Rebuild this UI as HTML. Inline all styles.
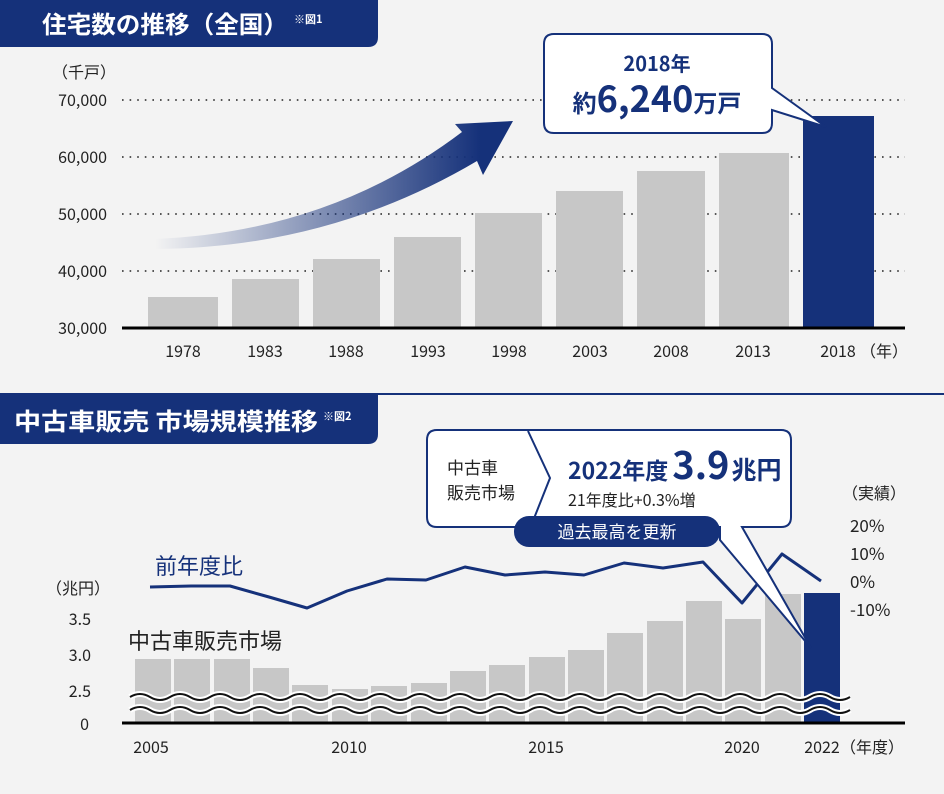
<!DOCTYPE html>
<html><head><meta charset="utf-8"><style>
body{margin:0;background:#f3f3f3;}
svg{display:block;font-family:"Noto Sans CJK JP",sans-serif;}
</style></head><body>
<svg width="944" height="794" viewBox="0 0 944 794" xmlns="http://www.w3.org/2000/svg">
<defs>
<linearGradient id="g" x1="155" y1="0" x2="480" y2="0" gradientUnits="userSpaceOnUse">
<stop offset="0" stop-color="#15317a" stop-opacity="0"/>
<stop offset="1" stop-color="#15317a"/>
</linearGradient>
</defs>
<rect width="944" height="794" fill="#f3f3f3"/>
<path d="M0 0H378V37Q378 47 368 47H0Z" fill="#15317a"/>
<text x="42" y="33" fill="#fff" font-size="24" font-weight="bold" textLength="246" lengthAdjust="spacingAndGlyphs">住宅数の推移（全国）</text>
<text x="294" y="23" fill="#fff" font-size="11" font-weight="bold">※図1</text>
<g stroke="#222" stroke-width="1.6" stroke-dasharray="1.6 6">
<line x1="122" y1="100" x2="905" y2="100"/><line x1="122" y1="157" x2="905" y2="157"/>
<line x1="122" y1="214" x2="905" y2="214"/><line x1="122" y1="271" x2="905" y2="271"/>
</g>
<g font-size="16" fill="#222" text-anchor="end">
<text x="107" y="106">70,000</text><text x="107" y="163">60,000</text><text x="107" y="220">50,000</text><text x="107" y="277">40,000</text><text x="107" y="334">30,000</text>
</g>
<text x="52" y="78" font-size="16" fill="#222">（千戸）</text>
<g fill="#c7c7c7">
<rect x="148" y="297" width="70" height="31"/><rect x="232" y="279" width="67" height="49"/>
<rect x="313" y="259" width="67" height="69"/><rect x="394" y="237" width="67" height="91"/>
<rect x="475" y="213" width="67" height="115"/><rect x="556" y="191" width="67" height="137"/>
<rect x="637" y="171" width="68" height="157"/><rect x="719" y="153" width="70" height="175"/>
</g>
<rect x="803" y="116" width="71" height="212" fill="#15317a"/>
<line x1="122" y1="328" x2="905" y2="328" stroke="#000" stroke-width="3"/>
<g font-size="16" fill="#222" text-anchor="middle">
<text x="183" y="357">1978</text><text x="265" y="357">1983</text><text x="346" y="357">1988</text><text x="428" y="357">1993</text><text x="509" y="357">1998</text><text x="590" y="357">2003</text><text x="671" y="357">2008</text><text x="753" y="357">2013</text><text x="838" y="357">2018</text>
</g>
<text x="860" y="357" font-size="16" fill="#222">（年）</text>
<path d="M155 239Q330 232 462 132L455 124L513 121L483 175L477 161Q330 248 155 249Z" fill="url(#g)"/>
<path d="M554 34H762Q772 34 772 44V88L826 127L772 110V123Q772 133 762 133H554Q544 133 544 123V44Q544 34 554 34Z" fill="#fff" stroke="#15317a" stroke-width="2"/>
<text x="657" y="71" font-size="20" font-weight="bold" fill="#15317a" text-anchor="middle">2018年</text>
<text x="657" y="112" text-anchor="middle" fill="#15317a" font-weight="bold"><tspan font-size="24">約</tspan><tspan font-size="36">6,240</tspan><tspan font-size="24">万戸</tspan></text>
<line x1="0" y1="394" x2="944" y2="394" stroke="#15317a" stroke-width="2"/>
<path d="M0 394H378V434Q378 444 368 444H0Z" fill="#15317a"/>
<text x="14" y="430" fill="#fff" font-size="24" font-weight="bold" textLength="304" lengthAdjust="spacingAndGlyphs">中古車販売 市場規模推移</text>
<text x="323" y="420" fill="#fff" font-size="11" font-weight="bold">※図2</text>
<g fill="#c7c7c7">
<rect x="135" y="659" width="36" height="64"/><rect x="174" y="659" width="36" height="64"/><rect x="214" y="659" width="36" height="64"/>
<rect x="253" y="668" width="36" height="55"/><rect x="292" y="685" width="36" height="38"/><rect x="332" y="689" width="36" height="34"/>
<rect x="371" y="686" width="36" height="37"/><rect x="411" y="683" width="36" height="40"/><rect x="450" y="671" width="36" height="52"/>
<rect x="489" y="665" width="36" height="58"/><rect x="529" y="657" width="36" height="66"/><rect x="568" y="650" width="36" height="73"/>
<rect x="607" y="633" width="36" height="90"/><rect x="647" y="621" width="36" height="102"/><rect x="686" y="601" width="36" height="122"/>
<rect x="725" y="619" width="36" height="104"/><rect x="765" y="594" width="36" height="129"/>
</g>
<rect x="804" y="593" width="36" height="130" fill="#15317a"/>
<g fill="none">
<path d="M130 697q10 -6 20 0t20 0t20 0t20 0t20 0t20 0t20 0t20 0t20 0t20 0t20 0t20 0t20 0t20 0t20 0t20 0t20 0t20 0t20 0t20 0t20 0t20 0t20 0t20 0t20 0t20 0t20 0t20 0t20 0t20 0t20 0t20 0t20 0t20 0t20 0t20 0" stroke="#fff" stroke-width="6"/>
<path d="M130 710q10 -6 20 0t20 0t20 0t20 0t20 0t20 0t20 0t20 0t20 0t20 0t20 0t20 0t20 0t20 0t20 0t20 0t20 0t20 0t20 0t20 0t20 0t20 0t20 0t20 0t20 0t20 0t20 0t20 0t20 0t20 0t20 0t20 0t20 0t20 0t20 0t20 0" stroke="#fff" stroke-width="6"/>
<path d="M130 697q10 -6 20 0t20 0t20 0t20 0t20 0t20 0t20 0t20 0t20 0t20 0t20 0t20 0t20 0t20 0t20 0t20 0t20 0t20 0t20 0t20 0t20 0t20 0t20 0t20 0t20 0t20 0t20 0t20 0t20 0t20 0t20 0t20 0t20 0t20 0t20 0t20 0" stroke="#111" stroke-width="2"/>
<path d="M130 710q10 -6 20 0t20 0t20 0t20 0t20 0t20 0t20 0t20 0t20 0t20 0t20 0t20 0t20 0t20 0t20 0t20 0t20 0t20 0t20 0t20 0t20 0t20 0t20 0t20 0t20 0t20 0t20 0t20 0t20 0t20 0t20 0t20 0t20 0t20 0t20 0t20 0" stroke="#111" stroke-width="2"/>
</g>
<line x1="122" y1="723" x2="905" y2="723" stroke="#000" stroke-width="3"/>
<polyline points="150,587 191,586 230,586 269,597 307,608 347,591 387,579 426,580 465,567 505,575 545,572 584,575 624,563 663,568 703,562 742,603 782,554 821,581" fill="none" stroke="#15317a" stroke-width="3" stroke-linejoin="round"/>
<text x="155" y="574" font-size="22" fill="#15317a">前年度比</text>
<text x="128" y="649" font-size="22" fill="#222">中古車販売市場</text>
<g font-size="16" fill="#222" text-anchor="end">
<text x="91" y="625">3.5</text><text x="91" y="661">3.0</text><text x="91" y="697">2.5</text><text x="89" y="730">0</text>
</g>
<text x="46" y="594" font-size="16" fill="#222">（兆円）</text>
<g font-size="17" fill="#222">
<text x="850" y="532">20%</text><text x="850" y="560">10%</text><text x="850" y="588">0%</text><text x="850" y="616">-10%</text>
</g>
<text x="842" y="499" font-size="16" fill="#222">（実績）</text>
<g font-size="16" fill="#222" text-anchor="middle">
<text x="151" y="753">2005</text><text x="349" y="753">2010</text><text x="546" y="753">2015</text><text x="742" y="753">2020</text><text x="822" y="753">2022</text>
</g>
<text x="840" y="753" font-size="16" fill="#222">（年度）</text>
<path d="M437 430H781Q791 430 791 440V517Q791 527 781 527H742L811 648L720 540V527H437Q427 527 427 517V440Q427 430 437 430Z" fill="#fff" stroke="#15317a" stroke-width="2"/>
<polyline points="528,431 550,478 531,526" fill="none" stroke="#15317a" stroke-width="2"/>
<rect x="514" y="516" width="206" height="31" rx="15" fill="#15317a"/>
<text x="617" y="538" font-size="17" fill="#fff" text-anchor="middle">過去最高を更新</text>
<g font-size="17" fill="#222">
<text x="447" y="474">中古車</text><text x="447" y="499">販売市場</text>
</g>
<text x="568" y="479" fill="#15317a" font-weight="bold"><tspan font-size="23">2022年度</tspan><tspan font-size="38" dx="4">3.9</tspan><tspan font-size="25" dx="2">兆円</tspan></text>
<text x="568" y="506" font-size="16" fill="#222">21年度比+0.3%増</text>
</svg>
</body></html>
